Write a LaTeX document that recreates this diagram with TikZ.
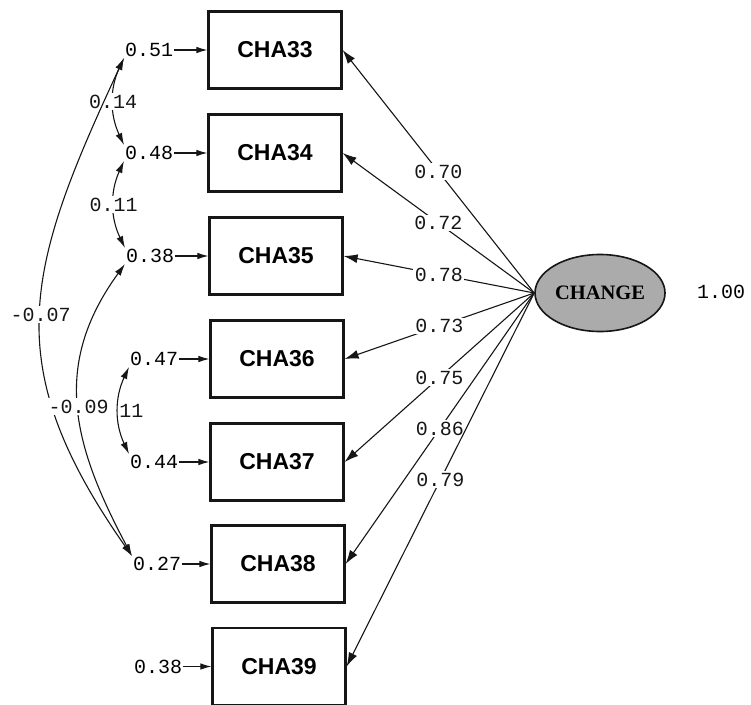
\documentclass[tikz,border=0pt]{standalone}
\usepackage{fontspec}
\setmainfont{Liberation Serif}
\setsansfont{Liberation Sans}
\setmonofont{Liberation Mono}
\usetikzlibrary{arrows.meta, positioning, calc, shapes.geometric}
\definecolor{inkdark}{HTML}{161616}
\definecolor{latentfill}{HTML}{ABABAB}

\begin{document}
\begin{tikzpicture}[x=1pt, y=1pt, font=\ttfamily\fontsize{20}{24}\selectfont,
    item/.style={draw=inkdark, line width=2.2pt, minimum width=133pt,
                 minimum height=77pt, inner sep=0pt,
                 font=\sffamily\bfseries\fontsize{23}{28}\selectfont},
    latent/.style={draw=inkdark, line width=1.6pt, fill=latentfill, ellipse,
                   minimum width=130pt, minimum height=77pt, inner sep=0pt,
                   font=\rmfamily\bfseries\fontsize{20.5}{24}\selectfont},
    errterm/.style={inner sep=1pt},
    coef/.style={fill=white, inner sep=1.5pt},
    load/.style={-{Latex[length=14pt, width=9pt]}, inkdark, line width=1.1pt},
    errarrow/.style={-{Latex[length=11pt, width=6.5pt]}, inkdark, line width=1.1pt},
    covar/.style={{Latex[length=12pt, width=7pt]}-{Latex[length=12pt, width=7pt]},
                  inkdark, line width=1.1pt}]
  \useasboundingbox (0,0) rectangle (751,-704);
  % observed items
  \node[item] (c33) at (275,-50)  {CHA33};
  \node[item] (c34) at (275,-153) {CHA34};
  \node[item] (c35) at (276,-256) {CHA35};
  \node[item] (c36) at (277,-359) {CHA36};
  \node[item] (c37) at (277,-462) {CHA37};
  \node[item] (c38) at (278,-564) {CHA38};
  \node[item] (c39) at (279,-666.5) {CHA39};
  % latent factor
  \node[latent] (change) at (600,-293) {CHANGE};
  \node (vchange) at (721,-292) {1.00};
  % error terms
  \node[errterm, left=33pt of c33] (e33) {0.51};
  \node[errterm, left=33pt of c34] (e34) {0.48};
  \node[errterm, left=33pt of c35] (e35) {0.38};
  \node[errterm, left=30pt of c36] (e36) {0.47};
  \node[errterm, left=30pt of c37] (e37) {0.44};
  \node[errterm, left=28pt of c38] (e38) {0.27};
  \node[errterm, left=28pt of c39] (e39) {0.38};
  \draw[errarrow] (e33) -- (c33);
  \draw[errarrow] (e34) -- (c34);
  \draw[errarrow] (e35) -- (c35);
  \draw[errarrow] (e36) -- (c36);
  \draw[errarrow] (e37) -- (c37);
  \draw[errarrow] (e38) -- (c38);
  \draw[errarrow] (e39) -- (c39);
  % loadings
  \draw[load] (change.west) -- node[coef] {0.70} (c33.east);
  \draw[load] (change.west) -- node[coef] {0.72} (c34.east);
  \draw[load] (change.west) -- node[coef] {0.78} (c35.east);
  \draw[load] (change.west) -- node[coef] {0.73} (c36.east);
  \draw[load] (change.west) -- node[coef] {0.75} (c37.east);
  \draw[load] (change.west) -- node[coef] {0.86} (c38.east);
  \draw[load] (change.west) -- node[coef] {0.79} (c39.east);
  % error covariances
  \draw[covar] (e33.south west) to[bend right=25] node[coef] {0.14} (e34.north west);
  \draw[covar] (e34.south west) to[bend right=25] node[coef] {0.11} (e35.north west);
  \draw[covar] (e36.south west) to[bend right=25]
    node[coef, anchor=west, xshift=-1pt] {11} (e37.north west);
  \draw[covar] (e33.south west) to[out=245, in=125, looseness=1.2]
    node[coef] {-0.07} (e38.north west);
  \draw[covar] (e35.south west) to[out=234, in=118, looseness=1.1]
    node[coef] {-0.09} (e38.north west);
\end{tikzpicture}
\end{document}
